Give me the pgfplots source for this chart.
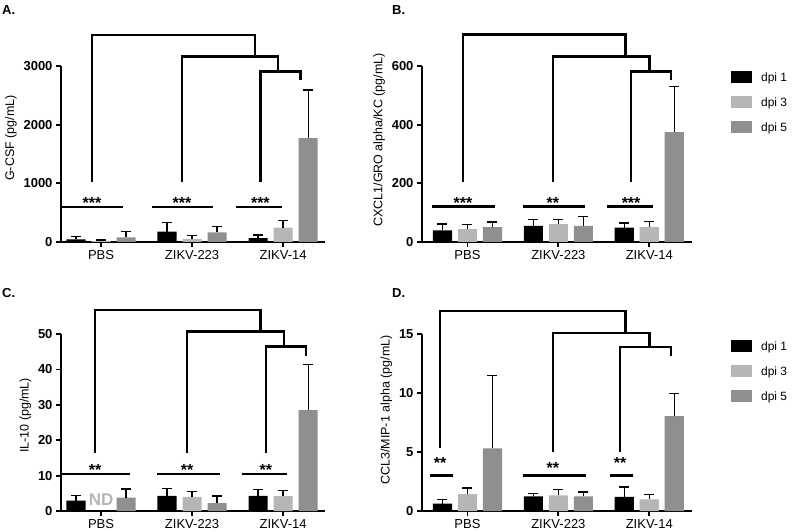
\documentclass[border=0pt]{standalone}
\usepackage{pgfplots}
\pgfplotsset{compat=1.18}
\usepackage{fontspec}
\setmainfont{Liberation Sans}
\definecolor{cA}{RGB}{0,0,0}
\definecolor{cB}{RGB}{182,182,182}
\definecolor{cC}{RGB}{143,143,143}
\tikzset{
  brk/.style={line width=2.5pt, black, line join=miter},
  stars/.style={anchor=base, yshift=-9pt, inner sep=0pt, font=\bfseries\fontsize{16}{16}\selectfont},
}
\pgfplotsset{
  panel/.style={
    scale only axis, clip=false, enlargelimits=false,
    axis x line*=bottom, axis y line*=left,
    axis line style={-, line width=2pt},
    tick style={line width=1.8pt, black},
    major tick length=5pt, tick align=outside,
    xtick={0,1,2}, xticklabels={PBS,ZIKV-223,ZIKV-14},
    xticklabel style={font=\fontsize{13}{13}\selectfont},
    yticklabel style={font=\bfseries\fontsize{13}{13}\selectfont},
    ylabel style={font=\fontsize{12.5}{12.5}\selectfont},
    scaled y ticks=false,
    /pgf/number format/1000 sep={},
    /pgf/number format/assume math mode=true,
    ymin=0,
    legend image code/.code={\fill[##1] (0pt,-5.5pt) rectangle (21pt,6.5pt);},
    legend style={draw=none, fill=none, inner sep=0pt, row sep=13pt,
      font=\fontsize{12}{12}\selectfont,
      nodes={inner sep=0pt},
      /tikz/every odd column/.append style={column sep=9pt}},
    legend cell align=left,
  },
  barbase/.style={ybar, bar width=0.21, bar shift=0, draw=none,
    error bars/y dir=plus, error bars/y explicit,
    error bars/error bar style={line width=1.3pt, black},
    error bars/error mark options={rotate=90, mark size=5pt, line width=1.3pt, black}},
  b1/.style={barbase, fill=cA},
  b3/.style={barbase, fill=cB},
  b5/.style={barbase, fill=cC},
}
\begin{document}
\begin{tikzpicture}
\path[use as bounding box] (0,0) rectangle (792pt,530pt);
\node[anchor=base west, inner sep=0pt, font=\bfseries\fontsize{13}{13}\selectfont] at (2pt,515pt) {A.};
\node[anchor=base west, inner sep=0pt, font=\bfseries\fontsize{13}{13}\selectfont] at (392pt,515pt) {B.};
\node[anchor=base west, inner sep=0pt, font=\bfseries\fontsize{13}{13}\selectfont] at (2pt,232pt) {C.};
\node[anchor=base west, inner sep=0pt, font=\bfseries\fontsize{13}{13}\selectfont] at (392pt,232pt) {D.};

% ---------------- A ----------------
\begin{axis}[panel, at={(61pt,288pt)}, anchor=south west,
  width=264pt, height=176pt, xmin=-0.44, xmax=2.46, ymax=3000,
  ytick={0,1000,2000,3000}, ylabel={G-CSF (pg/mL)},
  ylabel style={at={(ticklabel cs:0.59)}}]
\addplot[b1] coordinates {(-0.275,45) +- (0,45) (0.725,175) +- (0,155) (1.725,65) +- (0,55)};
\addplot[b3] coordinates {(0,15) +- (0,20) (1,50) +- (0,57) (2,245) +- (0,120)};
\addplot[b5] coordinates {(0.275,80) +- (0,95) (1.275,165) +- (0,95) (2.275,1770) +- (0,820)};
\draw[brk] (axis cs:-0.10,1030) |- (axis cs:1.69,3532) -- (axis cs:1.69,3164);
\draw[brk] (axis cs:0.89,1030) |- (axis cs:1.945,3164) -- (axis cs:1.945,2909);
\draw[brk] (axis cs:1.75,1030) |- (axis cs:2.19,2909) -- (axis cs:2.19,2757);
\draw[brk] (axis cs:-0.44,600) -- (axis cs:0.24,600);
\draw[brk] (axis cs:0.56,600) -- (axis cs:1.23,600);
\draw[brk] (axis cs:1.48,600) -- (axis cs:1.99,600);
\node[stars] at (axis cs:-0.10,716) {***};
\node[stars] at (axis cs:0.89,716) {***};
\node[stars] at (axis cs:1.75,716) {***};
\end{axis}

% ---------------- B ----------------
\begin{axis}[panel, at={(422pt,288pt)}, anchor=south west,
  width=270pt, height=176pt, xmin=-0.5, xmax=2.47, ymax=600,
  ytick={0,200,400,600}, ylabel={CXCL1/GRO alpha/KC (pg/mL)},
  ylabel style={at={(ticklabel cs:0.58)}},
  legend style={at={(rel axis cs:1.144,0.972)}, anchor=north west}]
\addplot[b1] coordinates {(-0.275,40) +- (0,21) (0.725,55) +- (0,21) (1.725,49) +- (0,16)};
\addplot[b3] coordinates {(0,44) +- (0,15) (1,61) +- (0,15) (2,51) +- (0,19)};
\addplot[b5] coordinates {(0.275,51) +- (0,17) (1.275,55) +- (0,32) (2.275,375) +- (0,156)};
\legend{dpi 1, dpi 3, dpi 5}
\draw[brk] (axis cs:-0.05,206) |- (axis cs:1.74,707) -- (axis cs:1.74,633);
\draw[brk] (axis cs:0.94,206) |- (axis cs:2.0,633) -- (axis cs:2.0,582);
\draw[brk] (axis cs:1.80,206) |- (axis cs:2.24,582) -- (axis cs:2.24,551);
\draw[brk] (axis cs:-0.39,121) -- (axis cs:0.30,121);
\draw[brk] (axis cs:0.61,121) -- (axis cs:1.29,121);
\draw[brk] (axis cs:1.53,121) -- (axis cs:2.04,121);
\node[stars] at (axis cs:-0.05,144) {***};
\node[stars] at (axis cs:0.94,144) {**};
\node[stars] at (axis cs:1.80,144) {***};
\end{axis}

% ---------------- C ----------------
\begin{axis}[panel, at={(61pt,19pt)}, anchor=south west,
  width=264pt, height=177pt, xmin=-0.44, xmax=2.46, ymax=50,
  ytick={0,10,20,30,40,50}, ylabel={IL-10 (pg/mL)},
  ylabel style={at={(ticklabel cs:0.54)}}]
\addplot[b1] coordinates {(-0.275,2.9) +- (0,1.4) (0.725,4.3) +- (0,2.1) (1.725,4.3) +- (0,1.8)};
\addplot[b3] coordinates {(1,4.0) +- (0,1.5) (2,4.2) +- (0,1.5)};
\addplot[b5] coordinates {(0.275,3.8) +- (0,2.4) (1.275,2.2) +- (0,2.0) (2.275,28.5) +- (0,12.9)};
\node[font=\bfseries\fontsize{17}{17}\selectfont, text=cB, inner sep=0pt] at (axis cs:0,3.1) {ND};
\draw[brk] (axis cs:-0.066,16.3) |- (axis cs:1.75,56.8) -- (axis cs:1.75,50.7);
\draw[brk] (axis cs:0.945,16.3) |- (axis cs:2.01,50.7) -- (axis cs:2.01,46.5);
\draw[brk] (axis cs:1.81,16.3) |- (axis cs:2.25,46.5) -- (axis cs:2.25,43.8);
\draw[brk] (axis cs:-0.44,10.5) -- (axis cs:0.32,10.5);
\draw[brk] (axis cs:0.62,10.5) -- (axis cs:1.31,10.5);
\draw[brk] (axis cs:1.55,10.5) -- (axis cs:2.04,10.5);
\node[stars] at (axis cs:-0.066,12.7) {**};
\node[stars] at (axis cs:0.945,12.7) {**};
\node[stars] at (axis cs:1.81,12.7) {**};
\end{axis}

% ---------------- D ----------------
\begin{axis}[panel, at={(422pt,19pt)}, anchor=south west,
  width=270pt, height=177pt, xmin=-0.5, xmax=2.47, ymax=15,
  ytick={0,5,10,15}, ylabel={CCL3/MIP-1 alpha (pg/mL)},
  ylabel style={at={(ticklabel cs:0.57)}},
  legend style={at={(rel axis cs:1.144,0.966)}, anchor=north west}]
\addplot[b1] coordinates {(-0.275,0.62) +- (0,0.34) (0.725,1.25) +- (0,0.22) (1.725,1.19) +- (0,0.85)};
\addplot[b3] coordinates {(0,1.42) +- (0,0.53) (1,1.33) +- (0,0.48) (2,0.99) +- (0,0.43)};
\addplot[b5] coordinates {(0.275,5.3) +- (0,6.2) (1.275,1.25) +- (0,0.36) (2.275,8.04) +- (0,1.92)};
\legend{dpi 1, dpi 3, dpi 5}
\draw[brk] (axis cs:-0.30,5.3) |- (axis cs:1.74,16.95) -- (axis cs:1.74,15.1);
\draw[brk] (axis cs:0.94,5.0) |- (axis cs:2.0,15.1) -- (axis cs:2.0,13.9);
\draw[brk] (axis cs:1.68,5.0) |- (axis cs:2.24,13.9) -- (axis cs:2.24,13.1);
\draw[brk] (axis cs:-0.41,3.0) -- (axis cs:-0.16,3.0);
\draw[brk] (axis cs:0.61,3.0) -- (axis cs:1.30,3.0);
\draw[brk] (axis cs:1.57,3.0) -- (axis cs:1.82,3.0);
\node[stars] at (axis cs:-0.30,4.36) {**};
\node[stars] at (axis cs:0.94,3.9) {**};
\node[stars] at (axis cs:1.68,4.36) {**};
\end{axis}
\end{tikzpicture}
\end{document}
